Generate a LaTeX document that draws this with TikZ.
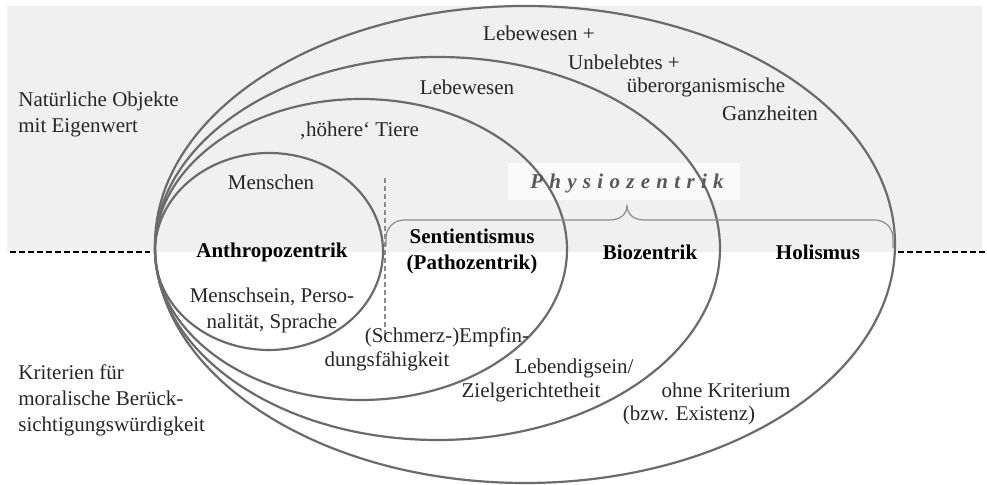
\documentclass[tikz,border=0pt]{standalone}
\usepackage{fontspec}
\setmainfont{Liberation Serif}
\begin{document}
\begin{tikzpicture}[x=0.5pt,y=-0.5pt,every node/.style={inner sep=0pt,font=\fontsize{10.5}{13}\selectfont,text=black!85},ring/.style={draw=black!58,line width=1.1pt},lbl/.style={align=center},side/.style={align=left,anchor=west},ethik/.style={lbl,font=\fontsize{10.5}{13}\selectfont\bfseries,text=black},brc/.style={draw=black!45,line width=0.6pt},sepl/.style={black,line width=0.6pt,dash pattern=on 3pt off 1.5pt}]
\def\ym{252};
\def\xl{155};

\useasboundingbox (0,0) rectangle (987,485);
\fill[gray!12] (7,6) rectangle (982,\ym);
\fill[gray!4] (508,163) rectangle (740,200);

\draw[sepl] (10,\ym) -- (150,\ym);
\draw[sepl] (898,\ym) -- (987,\ym);
\draw[black!45,line width=0.6pt,dash pattern=on 2.5pt off 1.5pt] (385,178) -- (385,335);

\draw[ring] (525,244.5) ellipse [x radius=370, y radius=238.5];
\draw[ring] (437.5,248.5) ellipse [x radius=282.5, y radius=191.5];
\draw[ring] (361,249.5) ellipse [x radius=206, y radius=150.5];
\draw[ring] (269,251.5) ellipse [x radius=114, y radius=98.5];

\draw[brc,rounded corners=9pt] (386,246) |- (609,220);
\draw[brc] (609,220) .. controls (621,220) and (627,214) .. (627,205) .. controls (627,214) and (633,220) .. (645,220);
\draw[brc,rounded corners=9pt] (645,220) -| (893,248);

\node[side] (obj) at (18,114) {Natürliche Objekte\\mit Eigenwert};
\node[side] (krit) at (18,400) {Kriterien für\\moralische Berück-\\sichtigungswürdigkeit};

\node (leb1) at (539,33) {Lebewesen +};
\node (unb) at (624,62) {Unbelebtes +};
\node (ueb) at (706,87) {überorganismische};
\node (ganz) at (770,113) {Ganzheiten};
\node (leb2) at (467,87) {Lebewesen};
\node (tier) at (359,131) {‚höhere‘ Tiere};
\node (mens) at (271,182) {Menschen};
\node[font=\fontsize{10.5}{13}\selectfont\bfseries\itshape\addfontfeature{LetterSpace=30},text=black!65] (phys) at (627,183) {Physiozentrik};

\node[ethik] (anth) at (272,252) {Anthropozentrik};
\node[ethik] (sent) at (472,251.5) {Sentientismus\\(Pathozentrik)};
\node[ethik] (bio) at (650,252) {Biozentrik};
\node[ethik] (hol) at (818,252) {Holismus};

\node[lbl] (kmen) at (272,310) {Menschsein, Perso-\\nalität, Sprache};
\node (ksen1) at (447,337) {(Schmerz-)Empfin-};
\node (ksen2) at (387,361) {dungsfähigkeit};
\node (kbio1) at (574,368) {Lebendigsein/};
\node (kbio2) at (531,392) {Zielgerichtetheit};
\node (khol1) at (726,390) {ohne Kriterium};
\node (khol2) at (689,415) {(bzw. Existenz)};
\end{tikzpicture}
\end{document}
